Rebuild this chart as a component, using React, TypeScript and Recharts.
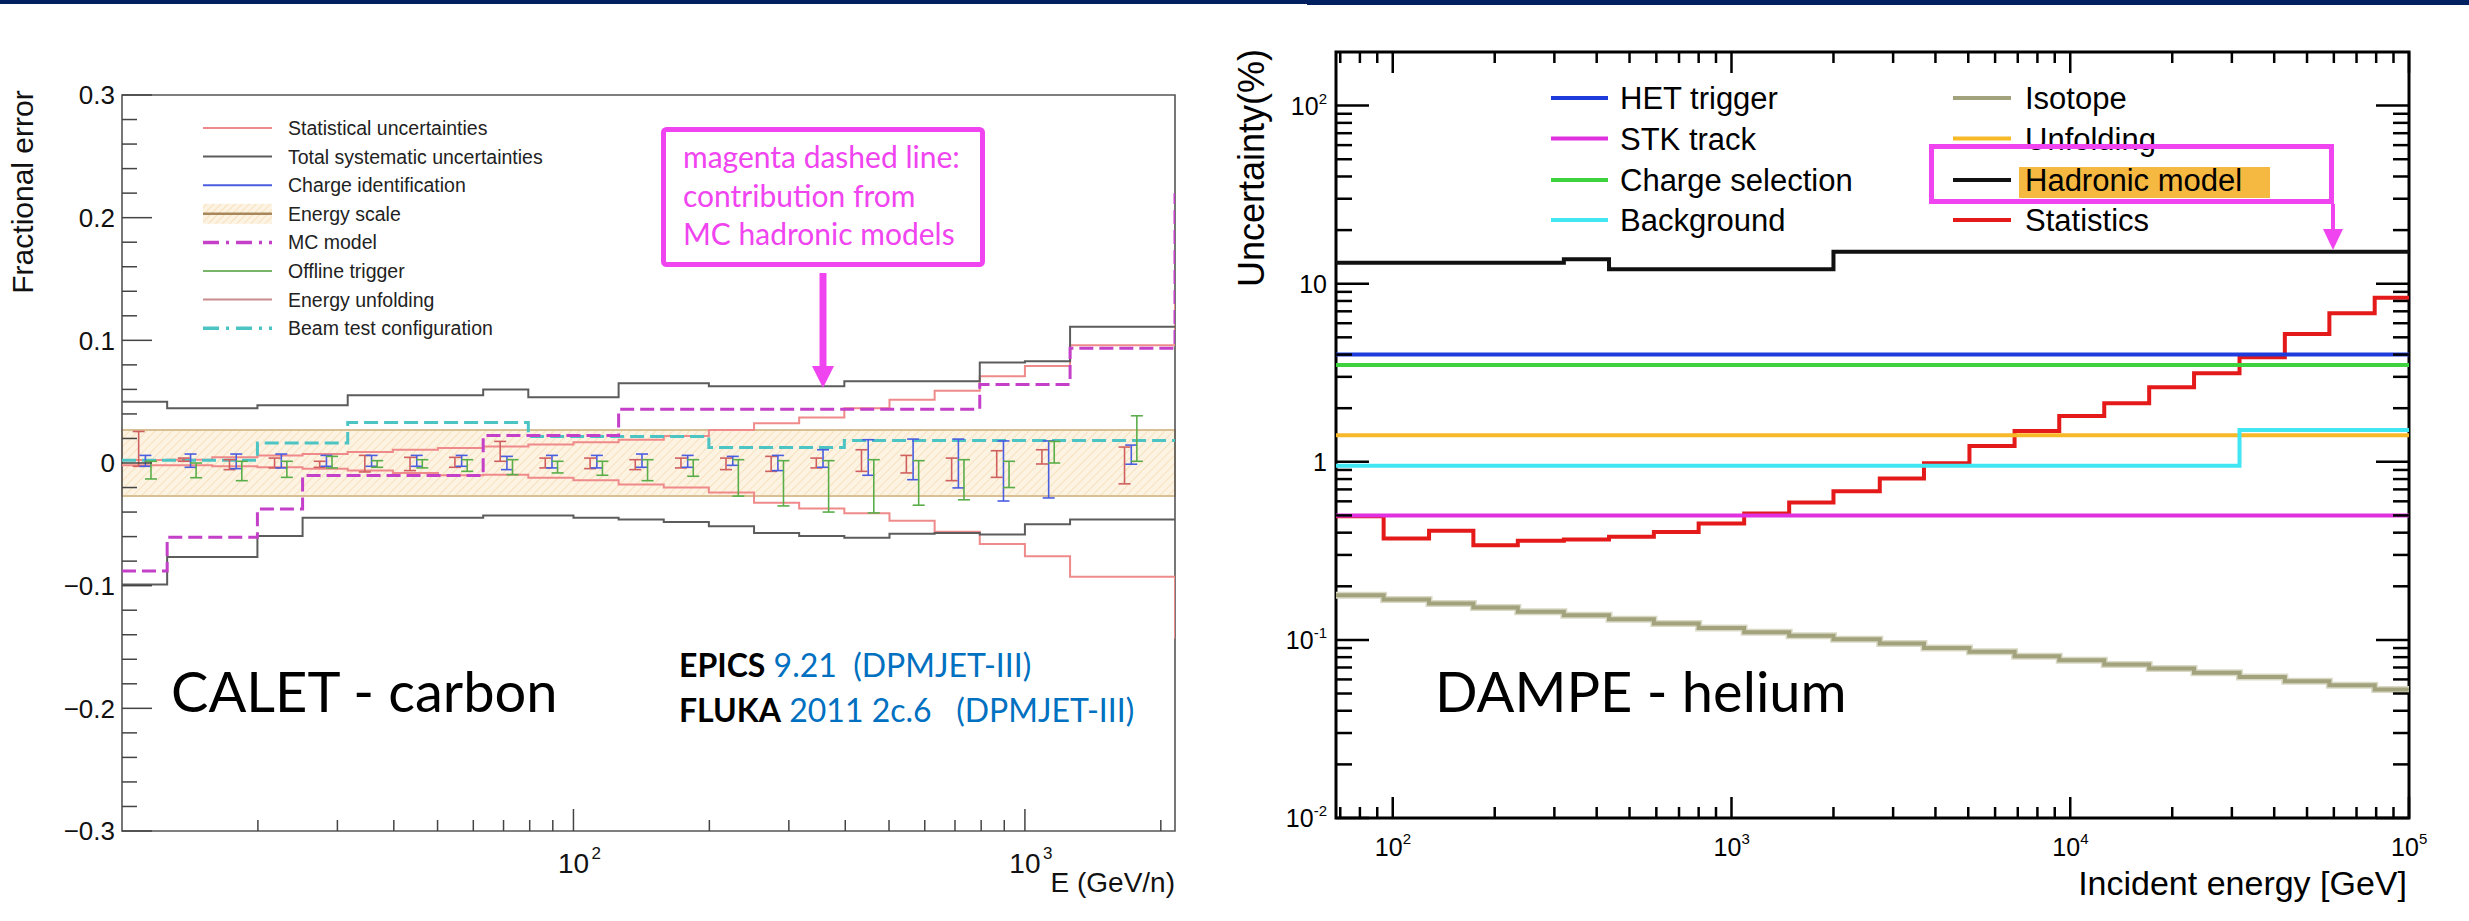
import React from 'react';
import { ComposedChart, Line, Scatter, ErrorBar, XAxis, YAxis, ReferenceArea } from 'recharts';

// ---------- CALET - carbon : fractional errors, 10 bins per decade ----------
const CALET_EDGES = [10, 12.59, 15.85, 19.95, 25.12, 31.62, 39.81, 50.12, 63.1, 79.43, 100, 125.9, 158.5, 199.5, 251.2, 316.2, 398.1, 501.2, 631, 794.3, 1000, 1259];
const CALET_END = 2150;

const CALET_STAT_UP = [0.0025, 0.0027, 0.0046, 0.0062, 0.0073, 0.0089, 0.0108, 0.0122, 0.0135, 0.015, 0.017, 0.019, 0.022, 0.027, 0.0325, 0.037, 0.0447, 0.0515, 0.059, 0.0707, 0.079, 0.096];
const CALET_STAT_LOW = [-0.0019, -0.0019, -0.0027, -0.0035, -0.0046, -0.0062, -0.0081, -0.01, -0.0095, -0.012, -0.014, -0.0176, -0.02, -0.024, -0.0325, -0.037, -0.041, -0.047, -0.056, -0.066, -0.076, -0.0927];
const CALET_STAT_EDGE = [0.14, -0.143];
const CALET_SYS_UP = [0.05, 0.0447, 0.0447, 0.047, 0.047, 0.0553, 0.0553, 0.0553, 0.06, 0.0537, 0.0537, 0.065, 0.065, 0.0626, 0.0626, 0.0626, 0.0667, 0.0667, 0.0667, 0.082, 0.083, 0.111];
const CALET_SYS_LOW = [-0.099, -0.0767, -0.0767, -0.0596, -0.0447, -0.0447, -0.0447, -0.0447, -0.0428, -0.0428, -0.0447, -0.0461, -0.048, -0.0515, -0.057, -0.0596, -0.061, -0.0577, -0.057, -0.0583, -0.05, -0.046];
const CALET_MC = [-0.088, -0.0605, -0.0605, -0.0374, -0.0102, -0.0102, -0.0102, -0.0102, 0.0225, 0.0225, 0.0225, 0.0439, 0.0439, 0.0439, 0.0439, 0.0439, 0.0439, 0.0439, 0.0439, 0.064, 0.064, 0.0935];
const CALET_MC_EDGE = 0.22;
const CALET_BEAM = [0.0022, 0.0022, 0.0022, 0.0163, 0.0163, 0.0331, 0.0331, 0.0331, 0.0331, 0.0217, 0.0217, 0.0217, 0.0217, 0.0127, 0.0127, 0.0127, 0.0184, 0.0184, 0.0184, 0.0184, 0.0184, 0.0184];
const CALET_ESCALE = [-0.027, 0.027];

// error-bar style contributions, one per bin
const CALET_CENTERS = [11.2, 14.1, 17.8, 22.4, 28.2, 35.5, 44.7, 56.2, 70.8, 89.1, 112, 141, 178, 224, 282, 355, 447, 562, 708, 891, 1122, 1710];
const CHARGE_HI = [0.0062, 0.0073, 0.0073, 0.0073, 0.0062, 0.0062, 0.0062, 0.0062, 0.0054, 0.0062, 0.0062, 0.0073, 0.0062, 0.0054, 0.0062, 0.0108, 0.019, 0.0195, 0.0195, 0.018, 0.018, 0.0146];
const CHARGE_LO = [-0.0027, -0.0035, -0.0046, -0.004, -0.0027, -0.0027, -0.0027, -0.0027, -0.0054, -0.004, -0.004, -0.0035, -0.0035, -0.0019, -0.0062, -0.0035, -0.01, -0.0136, -0.0203, -0.031, -0.0285, -0.001];
const TRIGGER_HI = [0.0014, 0.0, 0.0014, 0.0014, 0.0054, 0.0019, 0.0027, 0.0027, 0.0027, 0.0014, 0.0014, 0.0027, 0.0027, 0.0027, 0.0019, 0.0019, 0.0027, 0.0019, 0.0027, 0.0014, 0.0176, 0.0385];
const TRIGGER_LO = [-0.013, -0.012, -0.0144, -0.0117, -0.004, -0.0035, -0.004, -0.0068, -0.0095, -0.0081, -0.01, -0.0144, -0.0108, -0.027, -0.035, -0.04, -0.0407, -0.0344, -0.03, -0.02, 0.0, 0.0014];
const UNFOLD_HI = [0.0257, 0.004, 0.0027, 0.004, 0.0014, 0.0062, 0.0046, 0.0046, 0.0176, 0.004, 0.004, 0.0027, 0.004, 0.004, 0.0054, 0.004, 0.0108, 0.0062, 0.004, 0.01, 0.0108, 0.013];
const UNFOLD_LO = [-0.0027, 0.0014, -0.0054, -0.004, -0.0035, -0.0073, -0.0062, -0.0035, 0.0014, -0.004, -0.0046, -0.0054, -0.004, -0.0054, -0.0068, -0.004, -0.0068, -0.0081, -0.0144, -0.0117, -0.0008, -0.017];

const CALET_Y_TICKS = [-0.3, -0.28, -0.26, -0.24, -0.22, -0.2, -0.18, -0.16, -0.14, -0.12, -0.1, -0.08, -0.06, -0.04, -0.02, 0, 0.02, 0.04, 0.06, 0.08, 0.1, 0.12, 0.14, 0.16, 0.18, 0.2, 0.22, 0.24, 0.26, 0.28, 0.3];
const CALET_X_TICKS = [20, 30, 40, 50, 60, 70, 80, 90, 100, 200, 300, 400, 500, 600, 700, 800, 900, 1000, 2000];

const CALET_LEGEND = ['Statistical uncertainties', 'Total systematic uncertainties', 'Charge identification', 'Energy scale', 'MC model', 'Offline trigger', 'Energy unfolding', 'Beam test configuration'];

// ---------- DAMPE - helium : uncertainty (%) ----------
const DAMPE_EDGES = [68, 94, 128, 173, 234, 320, 435, 590, 800, 1090, 1480, 2000, 2740, 3700, 5040, 6850, 9280, 12600, 17100, 23200, 31600, 43000, 58200, 79200];
const DAMPE_END = 100000;
const STATISTICS = [0.495, 0.371, 0.41, 0.34, 0.36, 0.366, 0.379, 0.404, 0.451, 0.513, 0.591, 0.684, 0.807, 0.98, 1.225, 1.487, 1.81, 2.13, 2.62, 3.14, 3.86, 5.22, 6.82, 8.34];
const ISOTOPE = [0.178, 0.1685, 0.16, 0.152, 0.1437, 0.1377, 0.1306, 0.1236, 0.1168, 0.1105, 0.1054, 0.1009, 0.0955, 0.0902, 0.0857, 0.081, 0.0769, 0.0727, 0.069, 0.0653, 0.062, 0.0586, 0.0556, 0.0526];
const HET_TRIGGER = [4.0];
const STK_TRACK = [0.5];
const CHARGE_SEL = [3.5];
const UNFOLDING = [1.41];
const BACKGROUND_EDGES = [68, 31600];
const BACKGROUND = [0.95, 1.51];
const HADRONIC_EDGES = [68, 320, 435, 2000];
const HADRONIC = [13.1, 13.7, 12.05, 15.1];

const DAMPE_Y_TICKS = [0.01, 0.02, 0.03, 0.04, 0.05, 0.06, 0.07, 0.08, 0.09, 0.1, 0.2, 0.3, 0.4, 0.5, 0.6, 0.7, 0.8, 0.9, 1, 2, 3, 4, 5, 6, 7, 8, 9, 10, 20, 30, 40, 50, 60, 70, 80, 90, 100];
const DAMPE_X_TICKS = [70, 80, 90, 100, 200, 300, 400, 500, 600, 700, 800, 900, 1000, 2000, 3000, 4000, 5000, 6000, 7000, 8000, 9000, 10000, 20000, 30000, 40000, 50000, 60000, 70000, 80000, 90000, 100000];

const DAMPE_LEGEND_LEFT = ['HET trigger', 'STK track', 'Charge selection', 'Background'];
const DAMPE_LEGEND_RIGHT = ['Isotope', 'Unfolding', 'Hadronic model', 'Statistics'];

// ---------- layout ----------
const FONT = '"Liberation Sans", Arial, Helvetica, sans-serif';
const SLIDE_FONT = 'Lato, "Open Sans", sans-serif';
const MAGENTA = '#f044f0';

const L_W = 1220;
const L_TOP = 95;
const L_RIGHT = 45;
const L_YW = 122;
const L_XH = 90;

const R_W = 1249;
const R_TOP = 52;
const R_RIGHT = 60;
const R_YW = 116;
const R_XH = 103;
const R_PLOT_W = R_W - R_RIGHT - R_YW;
const R_PLOT_H = 921 - R_XH - R_TOP;

const C = {
  stat: '#ef8a8a',
  sys: '#5c5c5c',
  charge: '#4a5ee0',
  escaleEdge: '#d9bf94',
  mc: '#c440c8',
  trigger: '#5aae4a',
  unfold: '#d06060',
  unfoldLegend: '#c98c8c',
  beam: '#4cc4c4',
  het: '#1e3cdc',
  stk: '#e030e0',
  chargeSel: '#3ed23e',
  bg: '#40e6f2',
  iso: '#a2a27c',
  unfolding: '#f7b928',
  had: '#111111',
  statsR: '#e41a1a',
};

function steps(edges: number[], values: number[], end: number, endValue?: number) {
  const rows = edges.map((x, i) => ({ x, y: values[i] }));
  rows.push({ x: end, y: endValue === undefined ? values[values.length - 1] : endValue });
  return rows;
}

function bars(centers: number[], hi: number[], lo: number[], dodge: number) {
  return centers.map((c, i) => ({ x: c * dodge, y: (hi[i] + lo[i]) / 2, e: (hi[i] - lo[i]) / 2 }));
}

const isDecade = (v: number) => Math.abs(Math.log10(v) - Math.round(Math.log10(v))) < 1e-6;

function CaletYTick(props: any) {
  const { x, y, payload } = props;
  const v = payload.value;
  const major = Math.abs(v * 10 - Math.round(v * 10)) < 1e-6;
  const label = Math.abs(v) < 1e-9 ? '0' : (v < 0 ? '\u2212' : '') + Math.abs(v).toFixed(1);
  return (
    <g>
      <line x1={x} x2={x + (major ? 30 : 15)} y1={y} y2={y} stroke="#444" strokeWidth={1.5} />
      {major && (
        <text x={x - 7} y={y} dy="0.36em" textAnchor="end" fontFamily={FONT} fontSize={26} fill="#111">
          {label}
        </text>
      )}
    </g>
  );
}

function CaletXTick(props: any) {
  const { x, y, payload } = props;
  const v = payload.value;
  const major = isDecade(v);
  return (
    <g>
      <line x1={x} x2={x} y1={y} y2={y - (major ? 22 : 11)} stroke="#444" strokeWidth={1.5} />
      {major && (
        <g fontFamily={FONT} fill="#111">
          <text x={x} y={y + 42} textAnchor="middle" fontSize={28}>10</text>
          <text x={x + 18} y={y + 28} textAnchor="start" fontSize={17}>{Math.round(Math.log10(v))}</text>
        </g>
      )}
    </g>
  );
}

function DampeYTick(props: any) {
  const { x, y, payload } = props;
  const v = payload.value;
  const major = isDecade(v);
  const e = Math.round(Math.log10(v));
  const len = major ? 33 : 16;
  return (
    <g>
      <line x1={x} x2={x + len} y1={y} y2={y} stroke="#000" strokeWidth={2.5} />
      <line x1={x + R_PLOT_W} x2={x + R_PLOT_W - len} y1={y} y2={y} stroke="#000" strokeWidth={2.5} />
      {major && (
        <text x={x - 9} y={y} dy="0.36em" textAnchor="end" fontFamily={FONT} fontSize={25} fill="#000">
          {e === 0 ? '1' : e === 1 ? '10' : (
            <>
              10<tspan dy={-11} fontSize={15}>{e}</tspan>
            </>
          )}
        </text>
      )}
    </g>
  );
}

function DampeXTick(props: any) {
  const { x, y, payload } = props;
  const v = payload.value;
  const major = isDecade(v);
  const len = major ? 21 : 11;
  return (
    <g>
      <line x1={x} x2={x} y1={y} y2={y - len} stroke="#000" strokeWidth={2.5} />
      <line x1={x} x2={x} y1={y - R_PLOT_H} y2={y - R_PLOT_H + len} stroke="#000" strokeWidth={2.5} />
      {major && (
        <g fontFamily={FONT} fill="#000">
          <text x={x - 4} y={y + 38} textAnchor="middle" fontSize={25}>10</text>
          <text x={x + 10} y={y + 26} textAnchor="start" fontSize={15}>{Math.round(Math.log10(v))}</text>
        </g>
      )}
    </g>
  );
}

function CaletChart() {
  return (
    <ComposedChart width={L_W} height={921} margin={{ top: L_TOP, right: L_RIGHT, bottom: 0, left: 0 }}>
      <defs>
        <pattern id="escaleHatch" width="6" height="6" patternUnits="userSpaceOnUse" patternTransform="rotate(45)">
          <rect width="6" height="6" fill="#fdf3e2" />
          <line x1="0" y1="0" x2="0" y2="6" stroke="#f3d6a6" strokeWidth="1.2" />
        </pattern>
      </defs>
      <XAxis
        type="number"
        dataKey="x"
        scale="log"
        domain={[CALET_EDGES[0], CALET_END]}
        allowDataOverflow
        ticks={CALET_X_TICKS}
        interval={0}
        tick={CaletXTick}
        tickLine={false}
        axisLine={false}
        tickSize={0}
        tickMargin={0}
        height={L_XH}
      />
      <YAxis
        type="number"
        dataKey="y"
        domain={[-0.3, 0.3]}
        allowDataOverflow
        ticks={CALET_Y_TICKS}
        interval={0}
        tick={CaletYTick}
        tickLine={false}
        axisLine={false}
        tickSize={0}
        tickMargin={0}
        width={L_YW}
      />
      <ReferenceArea y1={CALET_ESCALE[0]} y2={CALET_ESCALE[1]} fill="url(#escaleHatch)" fillOpacity={1} stroke={C.escaleEdge} strokeWidth={2} />
      <Line data={steps(CALET_EDGES, CALET_STAT_UP, CALET_END, CALET_STAT_EDGE[0])} dataKey="y" type="stepAfter" stroke={C.stat} strokeWidth={2} dot={false} isAnimationActive={false} />
      <Line data={steps(CALET_EDGES, CALET_STAT_LOW, CALET_END, CALET_STAT_EDGE[1])} dataKey="y" type="stepAfter" stroke={C.stat} strokeWidth={2} dot={false} isAnimationActive={false} />
      <Line data={steps(CALET_EDGES, CALET_SYS_UP, CALET_END)} dataKey="y" type="stepAfter" stroke={C.sys} strokeWidth={2} dot={false} isAnimationActive={false} />
      <Line data={steps(CALET_EDGES, CALET_SYS_LOW, CALET_END)} dataKey="y" type="stepAfter" stroke={C.sys} strokeWidth={2} dot={false} isAnimationActive={false} />
      <Line data={steps(CALET_EDGES, CALET_BEAM, CALET_END)} dataKey="y" type="stepAfter" stroke={C.beam} strokeWidth={3} strokeDasharray="14 6" dot={false} isAnimationActive={false} />
      <Line data={steps(CALET_EDGES, CALET_MC, CALET_END, CALET_MC_EDGE)} dataKey="y" type="stepAfter" stroke={C.mc} strokeWidth={3} strokeDasharray="14 6" dot={false} isAnimationActive={false} />
      <Scatter data={bars(CALET_CENTERS, UNFOLD_HI, UNFOLD_LO, 0.972)} shape={() => <g />} isAnimationActive={false}>
        <ErrorBar dataKey="e" direction="y" width={6} stroke={C.unfold} strokeWidth={1.6} />
      </Scatter>
      <Scatter data={bars(CALET_CENTERS, CHARGE_HI, CHARGE_LO, 1.006)} shape={() => <g />} isAnimationActive={false}>
        <ErrorBar dataKey="e" direction="y" width={6} stroke={C.charge} strokeWidth={1.6} />
      </Scatter>
      <Scatter data={bars(CALET_CENTERS, TRIGGER_HI, TRIGGER_LO, 1.035)} shape={() => <g />} isAnimationActive={false}>
        <ErrorBar dataKey="e" direction="y" width={6} stroke={C.trigger} strokeWidth={1.6} />
      </Scatter>
      <ReferenceArea x1={CALET_EDGES[0]} x2={CALET_END} y1={-0.3} y2={0.3} fill="none" stroke="#555" strokeWidth={1.6} />
    </ComposedChart>
  );
}

function DampeChart() {
  const flat = (v: number[]) => steps([DAMPE_EDGES[0]], v, DAMPE_END);
  return (
    <ComposedChart width={R_W} height={921} margin={{ top: R_TOP, right: R_RIGHT, bottom: 0, left: 0 }}>
      <XAxis
        type="number"
        dataKey="x"
        scale="log"
        domain={[DAMPE_EDGES[0], DAMPE_END]}
        allowDataOverflow
        ticks={DAMPE_X_TICKS}
        interval={0}
        tick={DampeXTick}
        tickLine={false}
        axisLine={false}
        tickSize={0}
        tickMargin={0}
        height={R_XH}
      />
      <YAxis
        type="number"
        dataKey="y"
        scale="log"
        domain={[0.01, 200]}
        allowDataOverflow
        ticks={DAMPE_Y_TICKS}
        interval={0}
        tick={DampeYTick}
        tickLine={false}
        axisLine={false}
        tickSize={0}
        tickMargin={0}
        width={R_YW}
      />
      <Line data={steps(DAMPE_EDGES, ISOTOPE, DAMPE_END)} dataKey="y" type="stepAfter" stroke="#d9d9c6" strokeWidth={7} dot={false} isAnimationActive={false} />
      <Line data={steps(DAMPE_EDGES, ISOTOPE, DAMPE_END)} dataKey="y" type="stepAfter" stroke={C.iso} strokeWidth={4} dot={false} isAnimationActive={false} />
      <Line data={steps(DAMPE_EDGES, STATISTICS, DAMPE_END)} dataKey="y" type="stepAfter" stroke={C.statsR} strokeWidth={4} dot={false} isAnimationActive={false} />
      <Line data={flat(UNFOLDING)} dataKey="y" type="stepAfter" stroke={C.unfolding} strokeWidth={4} dot={false} isAnimationActive={false} />
      <Line data={steps(BACKGROUND_EDGES, BACKGROUND, DAMPE_END)} dataKey="y" type="stepAfter" stroke={C.bg} strokeWidth={4} dot={false} isAnimationActive={false} />
      <Line data={flat(STK_TRACK)} dataKey="y" type="stepAfter" stroke={C.stk} strokeWidth={4} dot={false} isAnimationActive={false} />
      <Line data={flat(CHARGE_SEL)} dataKey="y" type="stepAfter" stroke={C.chargeSel} strokeWidth={4} dot={false} isAnimationActive={false} />
      <Line data={flat(HET_TRIGGER)} dataKey="y" type="stepAfter" stroke={C.het} strokeWidth={4} dot={false} isAnimationActive={false} />
      <Line data={steps(HADRONIC_EDGES, HADRONIC, DAMPE_END)} dataKey="y" type="stepAfter" stroke={C.had} strokeWidth={4} dot={false} isAnimationActive={false} />
      <ReferenceArea x1={DAMPE_EDGES[0]} x2={DAMPE_END} y1={0.01} y2={200} fill="none" stroke="#000" strokeWidth={3} />
    </ComposedChart>
  );
}

function Overlay() {
  const legendY = (i: number) => 128 + i * 28.6;
  const calStyles = [
    { stroke: C.stat, w: 2 },
    { stroke: C.sys, w: 2 },
    { stroke: C.charge, w: 2 },
    { stroke: '#a8885a', w: 2.5, band: true },
    { stroke: C.mc, w: 3.5, dash: '16 7 3 7' },
    { stroke: '#78b46a', w: 2 },
    { stroke: C.unfoldLegend, w: 2 },
    { stroke: C.beam, w: 3.5, dash: '16 7 3 7' },
  ];
  const rRows = [98, 138.5, 180, 220];
  const leftCols = [C.het, C.stk, C.chargeSel, C.bg];
  const rightCols = [C.iso, C.unfolding, C.had, C.statsR];
  return (
    <svg width={2469} height={921} style={{ position: 'absolute', left: 0, top: 0, pointerEvents: 'none' }}>
      <defs>
        <pattern id="legHatch" width="5" height="5" patternUnits="userSpaceOnUse" patternTransform="rotate(45)">
          <rect width="5" height="5" fill="#fdf3e2" />
          <line x1="0" y1="0" x2="0" y2="5" stroke="#f3d6a6" strokeWidth="1.2" />
        </pattern>
      </defs>
      {/* slide header bars */}
      <rect x={0} y={0} width={1307} height={4} fill="#002060" />
      <rect x={1307} y={0} width={1162} height={5} fill="#002060" />

      {/* CALET axis titles */}
      <text transform="translate(33,192) rotate(-90)" textAnchor="middle" fontFamily={FONT} fontSize={30} fill="#111">Fractional error</text>
      <text x={1175} y={892} textAnchor="end" fontFamily={FONT} fontSize={28} fill="#111">E (GeV/n)</text>

      {/* CALET legend */}
      {CALET_LEGEND.map((name, i) => {
        const s = calStyles[i];
        const y = legendY(i);
        return (
          <g key={name}>
            {s.band && <rect x={203} y={y - 10} width={69} height={20} fill="url(#legHatch)" />}
            <line x1={203} x2={272} y1={y} y2={y} stroke={s.stroke} strokeWidth={s.w} strokeDasharray={s.dash} />
            <text x={288} y={y} dy="0.36em" fontFamily={FONT} fontSize={19.5} fill="#222">{name}</text>
          </g>
        );
      })}

      {/* CALET annotation */}
      <rect x={663.5} y={129.5} width={319} height={135} rx={3} fill="#fff" stroke={MAGENTA} strokeWidth={5} />
      <g fontFamily={SLIDE_FONT} fontSize={30} fill={MAGENTA}>
        <text x={683} y={168}>magenta dashed line:</text>
        <text x={683} y={207}>contribution from</text>
        <text x={683} y={245}>MC hadronic models</text>
      </g>
      <line x1={823} x2={823} y1={273} y2={368} stroke={MAGENTA} strokeWidth={7} />
      <polygon points="812,366 834,366 823,388" fill={MAGENTA} />

      <text x={171} y={712} fontFamily={SLIDE_FONT} fontSize={56} fill="#000">CALET - carbon</text>
      <g fontFamily={SLIDE_FONT} fontSize={32} style={{ whiteSpace: 'pre' }}>
        <text x={679} y={677} xmlSpace="preserve">
          <tspan fontWeight={700} fill="#000">EPICS</tspan>
          <tspan fill="#0070c0">{' 9.21  (DPMJET-III)'}</tspan>
        </text>
        <text x={679} y={722} xmlSpace="preserve">
          <tspan fontWeight={700} fill="#000">FLUKA</tspan>
          <tspan fill="#0070c0">{' 2011 2c.6   (DPMJET-III)'}</tspan>
        </text>
      </g>

      {/* DAMPE axis titles */}
      <text transform="translate(1264,168) rotate(-90)" textAnchor="middle" fontFamily={FONT} fontSize={36} fill="#000">Uncertainty(%)</text>
      <text x={2407} y={895} textAnchor="end" fontFamily={FONT} fontSize={34} fill="#000">Incident energy [GeV]</text>

      {/* DAMPE legend */}
      <rect x={2019} y={167} width={251} height={31} fill="#f5b942" />
      {DAMPE_LEGEND_LEFT.map((name, i) => (
        <g key={name}>
          <line x1={1551} x2={1608} y1={rRows[i]} y2={rRows[i]} stroke={leftCols[i]} strokeWidth={4} />
          <text x={1620} y={rRows[i]} dy="0.36em" fontFamily={FONT} fontSize={31} fill="#000">{name}</text>
        </g>
      ))}
      {DAMPE_LEGEND_RIGHT.map((name, i) => (
        <g key={name}>
          <line x1={1953} x2={2011} y1={rRows[i]} y2={rRows[i]} stroke={rightCols[i]} strokeWidth={4} />
          <text x={2025} y={rRows[i]} dy="0.36em" fontFamily={FONT} fontSize={31} fill="#000">{name}</text>
        </g>
      ))}
      <rect x={1931.5} y={146.5} width={400} height={55} fill="none" stroke={MAGENTA} strokeWidth={5} />
      <line x1={2333} x2={2333} y1={204} y2={232} stroke={MAGENTA} strokeWidth={4} />
      <polygon points="2323,229 2343,229 2333,250" fill={MAGENTA} />

      <text x={1435} y={712} fontFamily={SLIDE_FONT} fontSize={56} fill="#000">DAMPE - helium</text>
    </svg>
  );
}

export default function App() {
  return (
    <div style={{ position: 'absolute', left: 0, top: 0, width: 2469, height: 921, background: '#fff', overflow: 'hidden' }}>
      <div style={{ position: 'absolute', left: 0, top: 0 }}>
        <CaletChart />
      </div>
      <div style={{ position: 'absolute', left: 1220, top: 0 }}>
        <DampeChart />
      </div>
      <Overlay />
    </div>
  );
}
